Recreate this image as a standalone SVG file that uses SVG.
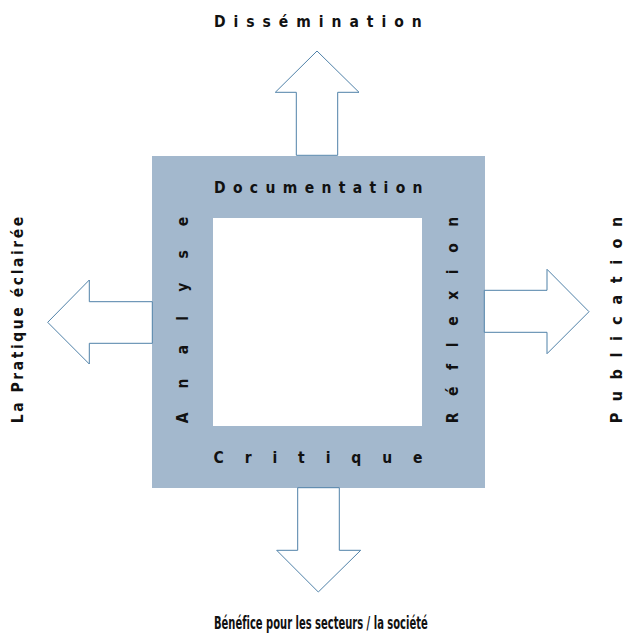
<svg xmlns="http://www.w3.org/2000/svg" width="627" height="633" viewBox="0 0 627 633">
  <style>
    .lbl { font-family: "Liberation Sans Narrow", "DejaVu Sans Condensed", "Liberation Sans", sans-serif; font-weight: bold; fill: #111; font-variant-ligatures: none; }
    .sp { font-size: 15.5px; }
    .arrow { fill: #ffffff; stroke: #4f81a8; stroke-width: 1; stroke-linejoin: miter; }
  </style>
  <rect width="627" height="633" fill="#ffffff"/>
  <g id="frame">
    <rect x="152" y="156" width="333" height="332" fill="#a3b8cd"/>
    <rect x="213" y="218" width="209" height="208" fill="#ffffff"/>
  </g>
  <g id="connectors">
    <polygon class="arrow" points="296.3,155.3 296.3,92.3 275.3,92.3 317,51 359,92.3 337.7,92.3 337.7,155.3"/>
    <polygon class="arrow" points="152.3,301.7 89.3,301.7 89.3,280 47.7,322.3 89.3,364 89.3,343.3 152.3,343.3"/>
    <polygon class="arrow" points="484.3,290.3 547,290.3 547,269.3 589,311.7 547,353.7 547,332.3 484.3,332.3"/>
    <polygon class="arrow" points="297.7,487.7 297.7,550.3 276.7,550.3 318.3,592 360.7,550.3 339.3,550.3 339.3,487.7"/>
  </g>
  <g id="documentation">
    <text class="lbl sp" x="214" y="192.7" font-size="16" textLength="208.5" lengthAdjust="spacing">Documentation</text>
  </g>
  <g id="critique">
    <text class="lbl sp" x="213.5" y="462.7" font-size="16" textLength="209" lengthAdjust="spacing">Critique</text>
  </g>
  <g id="analyse">
    <text class="lbl sp" transform="translate(187.7,423.3) rotate(-90)" x="0" y="0" textLength="206.6" lengthAdjust="spacing">Analyse</text>
  </g>
  <g id="reflexion">
    <text class="lbl sp" transform="translate(457.7,423.3) rotate(-90)" x="0" y="0" textLength="206.6" lengthAdjust="spacing">Réflexion</text>
  </g>
  <g id="dissemination">
    <text class="lbl sp" x="214" y="26.7" textLength="207.7" lengthAdjust="spacing">Dissémination</text>
  </g>
  <g id="pratique">
    <text class="lbl sp" transform="translate(23.3,423.3) rotate(-90)" x="0" y="0" textLength="206.6" lengthAdjust="spacing">La Pratique éclairée</text>
  </g>
  <g id="publication">
    <text class="lbl" font-size="16" transform="translate(621.5,423.3) rotate(-90)" x="0" y="0" textLength="206.6" lengthAdjust="spacing">Publication</text>
  </g>
  <g id="benefice">
    <text class="lbl" font-size="17" x="214" y="629.3" textLength="213.7" lengthAdjust="spacingAndGlyphs">Bénéfice pour les secteurs / la société</text>
  </g>
</svg>
